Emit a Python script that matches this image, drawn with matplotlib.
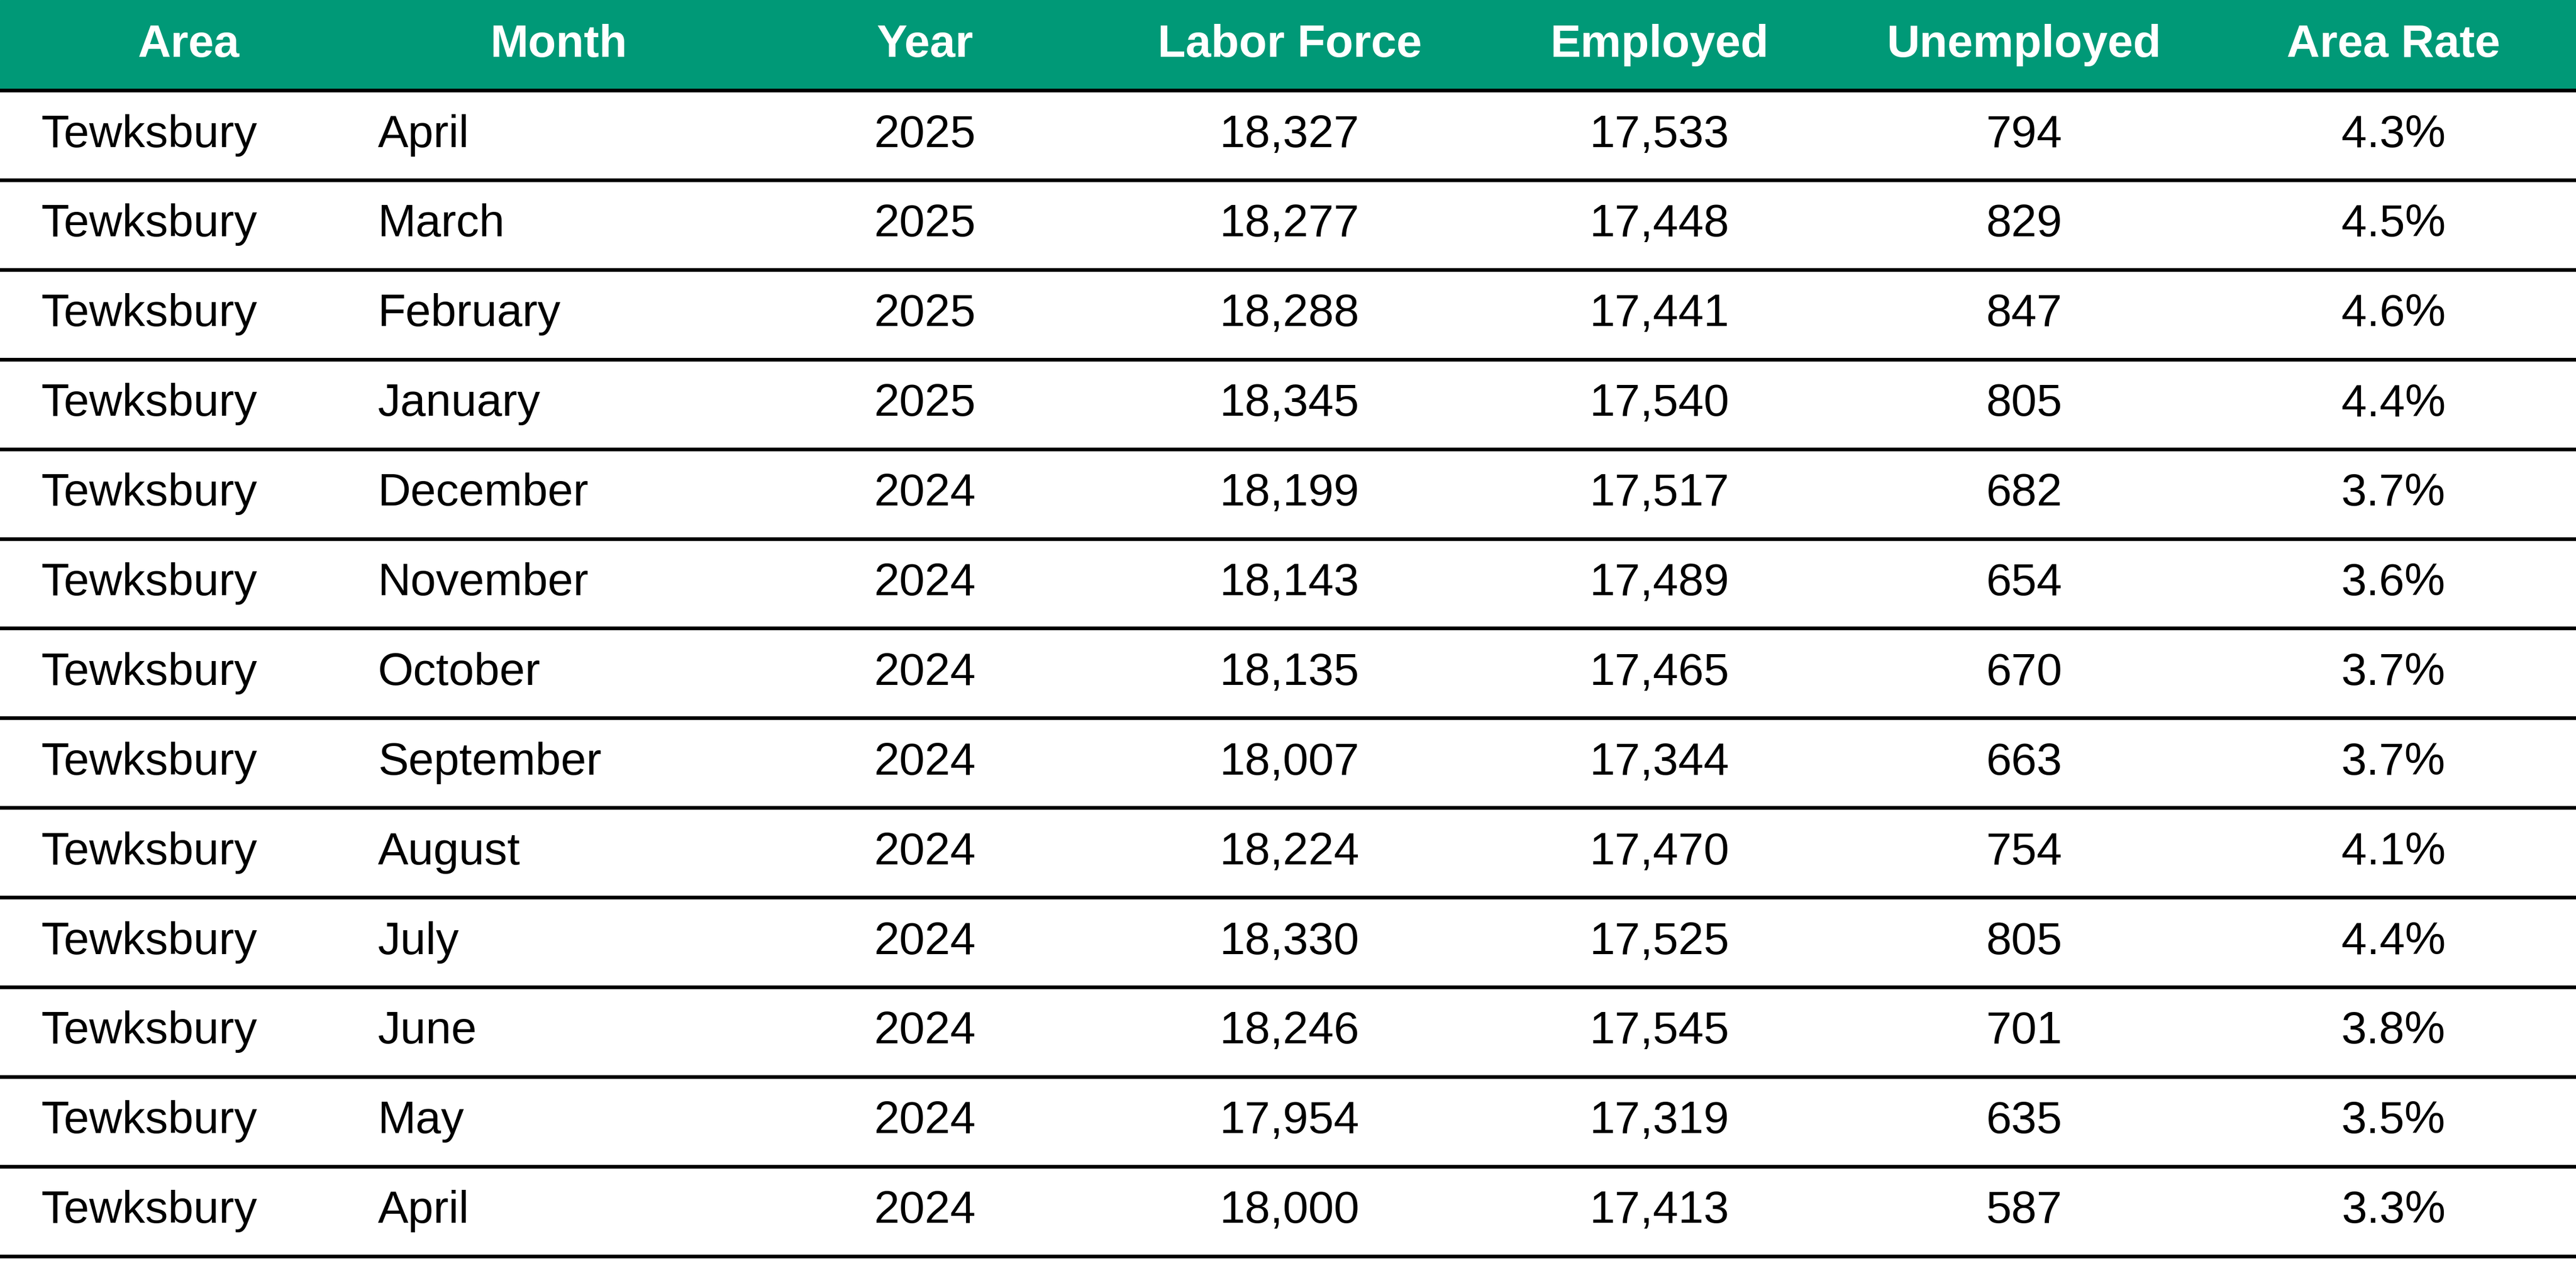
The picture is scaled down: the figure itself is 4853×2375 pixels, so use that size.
import matplotlib
matplotlib.use("Agg")
import matplotlib.pyplot as plt
from matplotlib.patches import Rectangle

headers = ["Area", "Month", "Year", "Labor Force", "Employed", "Unemployed", "Area Rate"]
months = ["April", "March", "February", "January", "December", "November", "October",
          "September", "August", "July", "June", "May", "April"]
years = [2025, 2025, 2025, 2025, 2024, 2024, 2024, 2024, 2024, 2024, 2024, 2024, 2024]
labor = [18327, 18277, 18288, 18345, 18199, 18143, 18135, 18007, 18224, 18330, 18246, 17954, 18000]
employed = [17533, 17448, 17441, 17540, 17517, 17489, 17465, 17344, 17470, 17525, 17545, 17319, 17413]
unemployed = [794, 829, 847, 805, 682, 654, 670, 663, 754, 805, 701, 635, 587]
rate = [4.3, 4.5, 4.6, 4.4, 3.7, 3.6, 3.7, 3.7, 4.1, 4.4, 3.8, 3.5, 3.3]

W, H = 1568, 768
fig = plt.figure(figsize=(48.53, 23.75), dpi=100)
ax = fig.add_axes([0, 0, 1, 1])
ax.set_xlim(0, W)
ax.set_ylim(H, 0)
ax.axis("off")

font = "Liberation Sans"
fs = 62
header_h = 55
row_h = (765 - header_h) / 13

ax.add_patch(Rectangle((0, 0), W, header_h, color="#009977", zorder=0))
head_x = [115, 340, 563, 785, 1010, 1232, 1457]
for x, h in zip(head_x, headers):
    ax.text(x, header_h / 2, h, ha="center", va="center", color="white",
            fontsize=fs, fontweight="bold", family=font)

ax.plot([0, W], [header_h, header_h], color="black", lw=5)
for i in range(13):
    yc = header_h + (i + 0.5) * row_h
    yb = header_h + (i + 1) * row_h
    ax.plot([0, W], [yb, yb], color="black", lw=5)
    ax.text(25, yc, "Tewksbury", ha="left", va="center", fontsize=fs, family=font)
    ax.text(230, yc, months[i], ha="left", va="center", fontsize=fs, family=font)
    ax.text(563, yc, str(years[i]), ha="center", va="center", fontsize=fs, family=font)
    ax.text(785, yc, f"{labor[i]:,}", ha="center", va="center", fontsize=fs, family=font)
    ax.text(1010, yc, f"{employed[i]:,}", ha="center", va="center", fontsize=fs, family=font)
    ax.text(1232, yc, f"{unemployed[i]:,}", ha="center", va="center", fontsize=fs, family=font)
    ax.text(1457, yc, f"{rate[i]:.1f}%", ha="center", va="center", fontsize=fs, family=font)

fig.savefig("out.png", dpi=100)
